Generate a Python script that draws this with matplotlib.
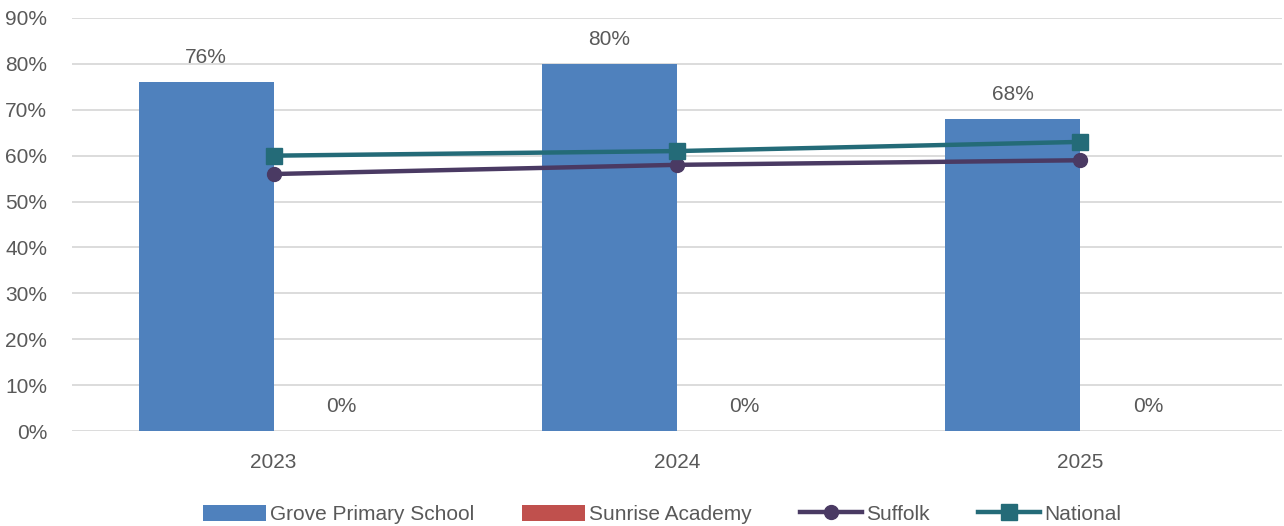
import numpy as np
import matplotlib.pyplot as plt
from matplotlib.ticker import PercentFormatter

# Data
years = ['2023', '2024', '2025']
grove = [76, 80, 68]
sunrise = [0, 0, 0]
suffolk = [56, 58, 59]
national = [60, 61, 63]

plt.rcParams['font.family'] = ['Liberation Sans', 'DejaVu Sans']
txt = '#595959'

fig = plt.figure(figsize=(12.84, 5.26), dpi=100)
ax = fig.add_axes([0.0561, 0.1806, 0.9423, 0.7852])

x = np.arange(len(years))
w = 0.335
b1 = ax.bar(x - w / 2, grove, w, color='#4f81bd', label='Grove Primary School', zorder=2)
b2 = ax.bar(x + w / 2, sunrise, w, color='#c0504d', label='Sunrise Academy', zorder=2)
l1, = ax.plot(x, suffolk, color='#4a3a63', lw=3.2, marker='o', ms=10, label='Suffolk', zorder=3)
l2, = ax.plot(x, national, color='#246b78', lw=3.2, marker='s', ms=12, label='National', zorder=4)

for bars, vals in [(b1, grove), (b2, sunrise)]:
    for r, v in zip(bars, vals):
        ax.annotate(f'{v}%', (r.get_x() + r.get_width() / 2, v), xytext=(0, 11),
                    textcoords='offset points', ha='center', va='bottom',
                    fontsize=15, color=txt)

ax.set_xlim(-0.5, 2.5)
ax.set_ylim(0, 90)
ax.set_yticks(range(0, 91, 10))
ax.yaxis.set_major_formatter(PercentFormatter(decimals=0))
ax.set_xticks(x)
ax.set_xticklabels(years)
ax.tick_params(axis='both', length=0, labelsize=15, labelcolor=txt)
ax.tick_params(axis='x', pad=16)
ax.tick_params(axis='y', pad=18)
ax.grid(axis='y', color='#d9d9d9', lw=1.3, zorder=0)
for s in ax.spines.values():
    s.set_visible(False)

ax.legend([b1, b2, l1, l2], ['Grove Primary School', 'Sunrise Academy', 'Suffolk', 'National'],
          loc='upper center', bbox_to_anchor=(0.488, -0.133), ncol=4, frameon=False,
          fontsize=15, labelcolor=txt, handlelength=3.0, handletextpad=0.2,
          columnspacing=2.3, handleheight=0.8)

fig.savefig('out.png', dpi=100)
